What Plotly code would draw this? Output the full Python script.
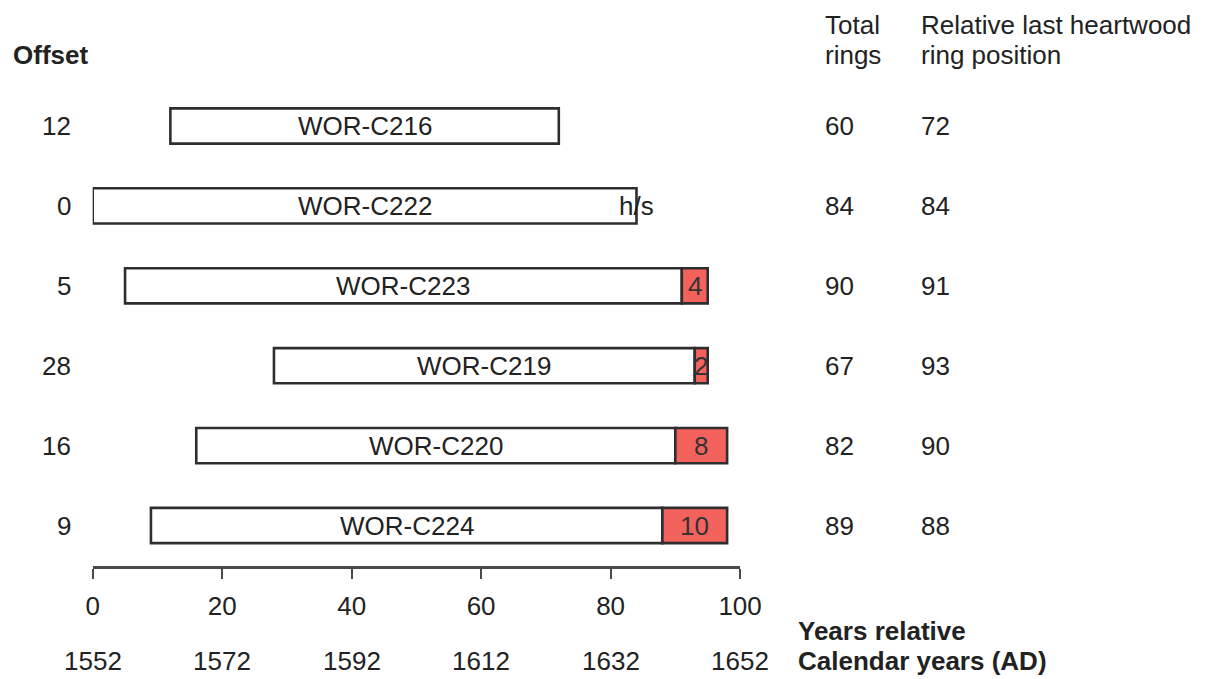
import plotly.graph_objects as go

# sample data, top to bottom
samples = ["WOR-C216", "WOR-C222", "WOR-C223", "WOR-C219", "WOR-C220", "WOR-C224"]
offsets = [12, 0, 5, 28, 16, 9]
total_rings = [60, 84, 90, 67, 82, 89]
last_heartwood = [72, 84, 91, 93, 90, 88]
sapwood_rings = [0, 0, 4, 2, 8, 10]
hs_boundary = [False, True, False, False, False, False]

rel_ticks = [0, 20, 40, 60, 80, 100]
start_year = 1552

FONT = "Liberation Sans, Arial, sans-serif"
FS = 26
INK = "#2e2e2e"
TXT = "#222"
RED = "#F4625E"

W, H = 1213, 679
ROW0, ROWSTEP = 126, 79.9  # pixel of first row, spacing


def px_x(p):
    # horizontal pixel -> paper fraction (small correction for the rendered scale)
    return ((p - 7.5) / 0.974) / W


X0, X1 = px_x(93), px_x(739)   # 0 and 100 on the relative axis

rows = list(range(len(samples)))
heart_len = [h - o for h, o in zip(last_heartwood, offsets)]

fig = go.Figure()

# heartwood part (white)
fig.add_trace(go.Bar(
    y=rows, x=heart_len, base=offsets, orientation="h", width=0.44,
    marker=dict(color="white", line=dict(color=INK, width=2.6)),
    cliponaxis=False, showlegend=False, hoverinfo="skip",
))

# sapwood part (red)
sap_rows = [r for r, s in zip(rows, sapwood_rings) if s > 0]
sap_base = [last_heartwood[r] for r in sap_rows]
sap_len = [sapwood_rings[r] for r in sap_rows]
fig.add_trace(go.Bar(
    y=sap_rows, x=sap_len, base=sap_base, orientation="h", width=0.44,
    marker=dict(color=RED, line=dict(color=INK, width=2.6)),
    cliponaxis=False, showlegend=False, hoverinfo="skip",
))

font = dict(family=FONT, size=FS, color=TXT)
annotations = []

# sample names centred on heartwood part
for r in rows:
    annotations.append(dict(x=offsets[r] + heart_len[r] / 2, y=r, xref="x", yref="y",
                            text=samples[r], showarrow=False, xanchor="center", font=font))
# sapwood counts
for r, b, l in zip(sap_rows, sap_base, sap_len):
    annotations.append(dict(x=b + l / 2, y=r, xref="x", yref="y", text=str(l),
                            showarrow=False, xanchor="center",
                            font=dict(family=FONT, size=FS, color="#333")))
# h/s boundary marker
for r, flag in enumerate(hs_boundary):
    if flag:
        annotations.append(dict(x=offsets[r] + total_rings[r], y=r, xref="x", yref="y",
                                text="h/s", showarrow=False, xanchor="center", font=font))

# left offset column (right aligned) and right columns
for r in rows:
    annotations.append(dict(x=px_x(73), y=r, xref="paper", yref="y", text=str(offsets[r]),
                            showarrow=False, xanchor="right", font=font))
    annotations.append(dict(x=px_x(822), y=r, xref="paper", yref="y", text=str(total_rings[r]),
                            showarrow=False, xanchor="left", font=font))
    annotations.append(dict(x=px_x(918), y=r, xref="paper", yref="y", text=str(last_heartwood[r]),
                            showarrow=False, xanchor="left", font=font))

y_hdr1 = (25 - ROW0) / ROWSTEP
y_hdr2 = (55 - ROW0) / ROWSTEP
y_bot1 = (631 - ROW0) / ROWSTEP
y_bot2 = (661 - ROW0) / ROWSTEP
annotations += [
    dict(x=px_x(11), y=y_hdr2, xref="paper", yref="y", text="<b>Offset</b>",
         showarrow=False, xanchor="left", font=font),
    dict(x=px_x(822), y=y_hdr1, xref="paper", yref="y", text="Total",
         showarrow=False, xanchor="left", font=font),
    dict(x=px_x(822), y=y_hdr2, xref="paper", yref="y", text="rings",
         showarrow=False, xanchor="left", font=font),
    dict(x=px_x(918), y=y_hdr1, xref="paper", yref="y", text="Relative last heartwood",
         showarrow=False, xanchor="left", font=font),
    dict(x=px_x(918), y=y_hdr2, xref="paper", yref="y", text="ring position",
         showarrow=False, xanchor="left", font=font),
    dict(x=px_x(795), y=y_bot1, xref="paper", yref="y", text="<b>Years relative</b>",
         showarrow=False, xanchor="left", font=font),
    dict(x=px_x(795), y=y_bot2, xref="paper", yref="y", text="<b>Calendar years (AD)</b>",
         showarrow=False, xanchor="left", font=font),
]

# calendar year labels under the relative ticks
for t in rel_ticks:
    annotations.append(dict(x=t, y=y_bot2, xref="x", yref="y", text=str(start_year + t),
                            showarrow=False, xanchor="center", font=font))

fig.update_layout(
    width=W, height=H,
    margin=dict(l=0, r=0, t=0, b=0),
    paper_bgcolor="white", plot_bgcolor="rgba(0,0,0,0)",
    barmode="overlay",
    font=font,
    annotations=annotations,
    xaxis=dict(
        domain=[X0, X1], range=[0, 100],
        anchor="free", position=1 - 567 / H,
        showline=True, linecolor="#4a4a4a", linewidth=3,
        ticks="outside", ticklen=10, tickwidth=2, tickcolor="#4a4a4a",
        ticklabelstandoff=5,
        tickvals=rel_ticks, ticktext=[str(t) for t in rel_ticks],
        tickfont=font,
        showgrid=False, zeroline=False,
    ),
    yaxis=dict(
        domain=[0, 1], range=[(H - ROW0) / ROWSTEP, -ROW0 / ROWSTEP],
        visible=False, showgrid=False, zeroline=False,
    ),
)

fig.write_html("out.html", config={"displayModeBar": False},
               post_script="document.body.style.margin='0';document.body.style.overflow='hidden';")
